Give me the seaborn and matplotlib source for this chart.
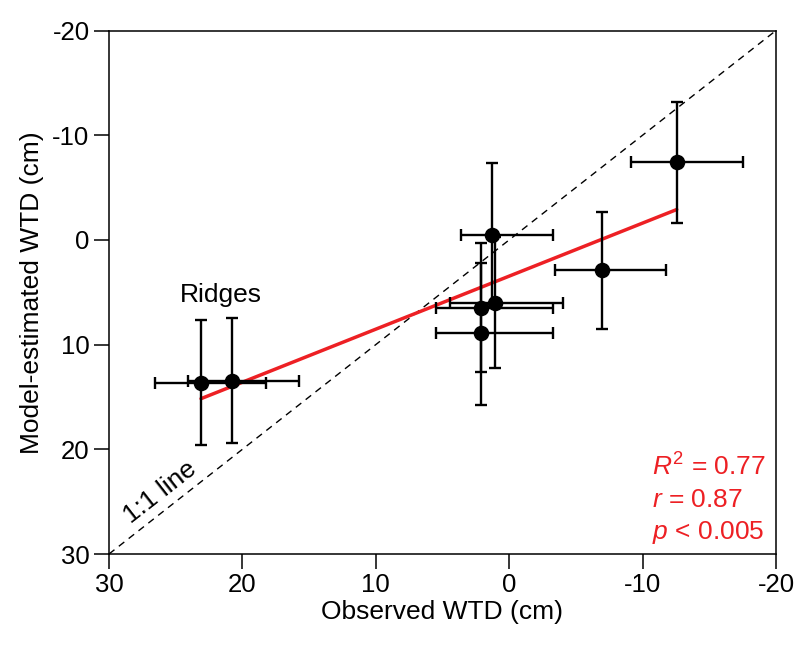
import numpy as np
import pandas as pd
import matplotlib
matplotlib.use("Agg")
import matplotlib.pyplot as plt
import seaborn as sns

# ---- data ----
obs     = [23.10, 20.78, 1.31, 2.14, 1.10, 2.14, -6.96, -12.56]
obs_lo  = [18.23, 15.73, -3.26, -3.26, -4.06, -3.26, -11.75, -17.55]
obs_hi  = [26.55, 24.06, 3.61, 5.51, 4.44, 5.51, -3.43, -9.11]
mod     = [13.64, 13.45, -0.47, 6.46, 5.98, 8.92, 2.90, -7.47]
mod_lo  = [7.65, 7.49, -7.32, 0.32, -0.30, 2.18, -2.66, -13.20]
mod_hi  = [19.59, 19.37, 6.38, 12.59, 12.26, 15.77, 8.48, -1.64]
x_ticks = [30, 20, 10, 0, -10, -20]
y_ticks = [-20, -10, 0, 10, 20, 30]
stats_lines = [r"$R^{\mathregular{2}}$ = 0.77", r"$r$ = 0.87", r"$p$ < 0.005"]

RED = "#ed2024"

sns.set_style("ticks")
plt.rcParams["font.family"] = ["Liberation Sans", "DejaVu Sans"]
plt.rcParams["mathtext.fontset"] = "custom"
plt.rcParams["mathtext.rm"] = "Liberation Sans"
plt.rcParams["mathtext.it"] = "Liberation Sans:italic"
plt.rcParams["text.color"] = "black"
plt.rcParams["axes.labelcolor"] = "black"
plt.rcParams["xtick.color"] = "black"
plt.rcParams["ytick.color"] = "black"

FS = 18.5
LFS = 19

df = pd.DataFrame({"obs": obs, "mod": mod})

fig = plt.figure(figsize=(8.11, 6.52), dpi=100)
ax = fig.add_axes([109 / 811, 1 - 554 / 652, (776 - 109) / 811, (554 - 30.5) / 652])

# 1:1 line
ax.plot([30, -20], [30, -20], color="black", lw=1.0, ls=(0, (5, 4)), zorder=1)

# regression line
sns.regplot(data=df, x="obs", y="mod", ax=ax, ci=None, scatter=False,
            truncate=True, line_kws=dict(color=RED, lw=2.5, zorder=2))

# error bars
o = np.array(obs); m = np.array(mod)
xerr = np.vstack([o - np.array(obs_lo), np.array(obs_hi) - o])
yerr = np.vstack([m - np.array(mod_lo), np.array(mod_hi) - m])
ax.errorbar(o, m, xerr=xerr, yerr=yerr, fmt="none", ecolor="black",
            elinewidth=1.7, capsize=4.5, capthick=1.7, zorder=3)

# points
sns.scatterplot(data=df, x="obs", y="mod", ax=ax, color="black", s=125,
                edgecolor="black", linewidth=0, zorder=4, legend=False)

ax.set_xlim(30, -20)
ax.set_ylim(30, -20)
ax.set_xticks(x_ticks)
ax.set_yticks(y_ticks)
ax.set_xticklabels([str(t) for t in x_ticks])
ax.set_yticklabels([str(t) for t in y_ticks])
ax.tick_params(axis="both", direction="out", length=11, width=1.1,
               labelsize=FS, pad=3, colors="black")
ax.tick_params(top=False, right=False)
for sp in ax.spines.values():
    sp.set_visible(True)
    sp.set_linewidth(1.1)
    sp.set_color("black")

ax.set_xlabel("Observed WTD (cm)", fontsize=LFS, labelpad=2, color="black")
ax.set_ylabel("Model-estimated WTD (cm)", fontsize=LFS, labelpad=6, color="black")

ax.text(21.6, 5.9, "Ridges", fontsize=LFS, ha="center", va="baseline", color="black")
ax.text(26.18, 24.08, "1:1 line", fontsize=LFS, ha="center", va="center",
        rotation=38, rotation_mode="anchor", color="black")

for yb, s in zip([22.52, 25.48, 28.57], stats_lines):
    ax.text(-10.68, yb, s, fontsize=LFS, color=RED, ha="left", va="baseline")

fig.savefig("out.png", dpi=100)
